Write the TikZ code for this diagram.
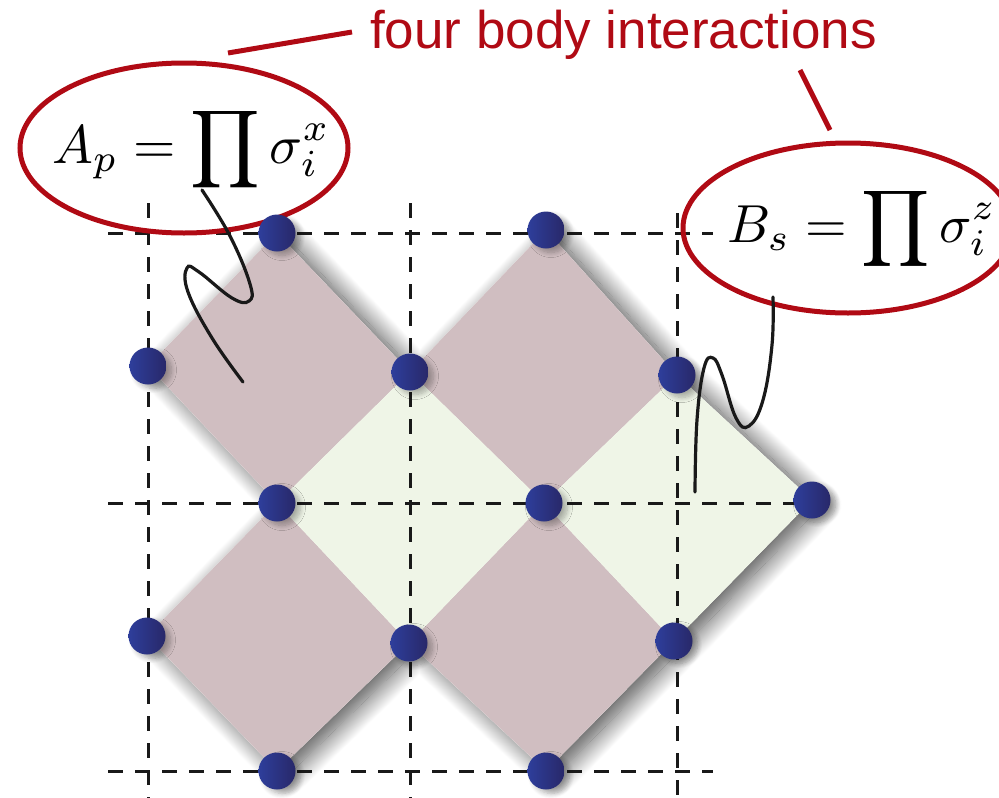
\documentclass[tikz,border=0pt]{standalone}
\usepackage{graphicx}
\usepackage{fontspec}
\newfontfamily\labelfont{Liberation Sans}
\usetikzlibrary{shadows.blur}
\definecolor{mauve}{RGB}{208,190,193}
\definecolor{mint}{RGB}{239,245,231}
\definecolor{ared}{RGB}{176,10,20}
\definecolor{dotL}{RGB}{46,62,155}
\definecolor{dotR}{RGB}{40,40,105}
\definecolor{gridc}{RGB}{25,25,25}
\begin{document}
\begin{tikzpicture}[x=1pt,y=-1pt,
  site/.style={circle, minimum size=37pt, inner sep=0pt, left color=dotL, right color=dotR,
    blur shadow={shadow xshift=5pt, shadow yshift=-4pt, shadow blur radius=5pt, shadow opacity=30, shadow blur steps=10}},
  gridline/.style={draw=gridc, line width=3pt, dash pattern=on 15pt off 12pt},
  oval/.style={draw=ared, line width=5pt},
  redline/.style={draw=ared, line width=5pt},
  squig/.style={draw=black!90, line width=3.2pt, line cap=round},
  plaq/.style={fill=mauve},
  star/.style={fill=mint},
]
\useasboundingbox (0,0) rectangle (999,798);
% vertices
\coordinate (v1) at (277,233);
\coordinate (v2) at (546,230);
\coordinate (v3) at (148,366);
\coordinate (v4) at (410,372);
\coordinate (v5) at (677,375);
\coordinate (v6) at (277,503);
\coordinate (v7) at (544,503);
\coordinate (v8) at (812,500);
\coordinate (v9) at (147,636);
\coordinate (v10) at (409,643);
\coordinate (v11) at (674,641);
\coordinate (v12) at (277,771);
\coordinate (v13) at (546,771);
% shadow of the whole tiling
\fill[white, blur shadow={shadow xshift=10pt, shadow yshift=-5pt, shadow blur radius=20pt, shadow opacity=70, shadow blur steps=30}]
  (v1) -- (v4) -- (v2) -- (v5) -- (v8) -- (v11) -- (v13) -- (v10) -- (v12) -- (v9) -- (v6) -- (v3) -- cycle;
% plaquettes
\fill[plaq] (v1) -- (v4) -- (v6) -- (v3) -- cycle;
\fill[plaq] (v2) -- (v5) -- (v7) -- (v4) -- cycle;
\fill[plaq] (v6) -- (v10) -- (v12) -- (v9) -- cycle;
\fill[plaq] (v7) -- (v11) -- (v13) -- (v10) -- cycle;
\fill[star] (v4) -- (v7) -- (v10) -- (v6) -- cycle;
\fill[star] (v5) -- (v8) -- (v11) -- (v7) -- cycle;
% dashed grid
\coordinate (h1a) at (108,233); \coordinate (h1b) at (713,233);
\coordinate (h2a) at (108,503); \coordinate (h2b) at (834,503);
\coordinate (h3a) at (108,771); \coordinate (h3b) at (713,771);
\coordinate (g1a) at (148,203); \coordinate (g1b) at (148,798);
\coordinate (g2a) at (410,203); \coordinate (g2b) at (410,798);
\coordinate (g3a) at (677,213); \coordinate (g3b) at (677,798);
\draw[gridline] (h1a) -- (h1b);
\draw[gridline] (h2a) -- (h2b);
\draw[gridline] (h3a) -- (h3b);
\draw[gridline] (g1a) -- (g1b);
\draw[gridline] (g2a) -- (g2b);
\draw[gridline] (g3a) -- (g3b);
% ovals and labels
\draw[oval] (184,148) ellipse [x radius=164, y radius=85];
\draw[oval] (848,228) ellipse [x radius=165, y radius=85];
\node[anchor=base west, inner sep=0pt] (eqA) at (52,163) {\fontsize{10}{12}\selectfont\scalebox{5.45}{$\displaystyle A_p=\prod\sigma_i^x$}};
\node[anchor=base west, inner sep=0pt] (eqB) at (727,242) {\fontsize{10}{12}\selectfont\scalebox{5.35}{$\displaystyle B_s=\prod\sigma_i^z$}};
\node[anchor=base west, inner sep=0pt, text=ared, font=\labelfont\fontsize{53}{60}\selectfont] (lab) at (370,48) {four body interactions};
\coordinate (la1) at (228,53); \coordinate (la2) at (352,32);
\coordinate (lb1) at (800,70); \coordinate (lb2) at (830,130);
\draw[redline] (la1) -- (la2);
\draw[redline] (lb1) -- (lb2);
% sites
\foreach \i in {1,...,13} { \node[site] (d\i) at (v\i) {}; }
% squiggles
\draw[squig] plot[smooth, tension=0.7] coordinates {(202,190) (230,236) (250,284) (249,301) (232,298) (199,272) (187,268) (188,292) (212,338) (243,382)};
\draw[squig] plot[smooth, tension=0.7] coordinates {(773,297) (772,345) (763,400) (749,426) (736,418) (722,375) (713,358) (704,368) (697,420) (695,492)};
\end{tikzpicture}
\end{document}
